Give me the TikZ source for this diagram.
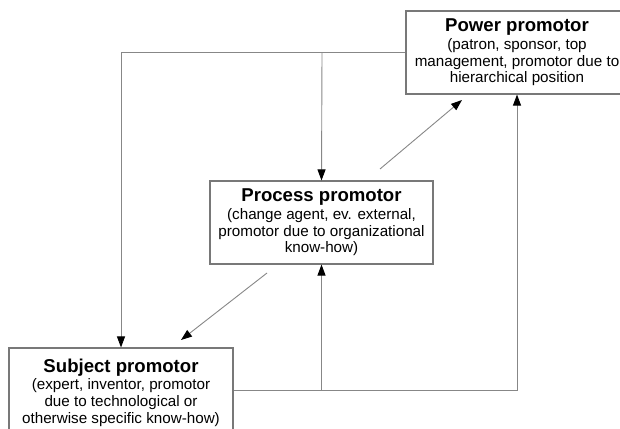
\documentclass[tikz,border=0pt]{standalone}
\usepackage{fontspec}
\setmainfont{Liberation Sans}
\usetikzlibrary{arrows.meta}
\definecolor{linegray}{RGB}{135,135,135}
\definecolor{boxgray}{RGB}{120,120,120}
\tikzset{
  promobox/.style={draw=boxgray, line width=1.1pt, rectangle, align=center,
    minimum height=83pt, inner sep=0pt, font=\fontsize{15.2}{16.6}\selectfont},
  conn/.style={draw=linegray, line width=0.9pt,
    -{Triangle[length=11pt,width=8pt,color=black,fill=black]}},
}
\newcommand{\ptitle}[1]{{\fontsize{18.6}{21}\selectfont\bfseries #1}\\[1pt]}
\begin{document}
\begin{tikzpicture}[x=1pt,y=-1pt]
\useasboundingbox (0,0) rectangle (620,428);
\node[promobox, minimum width=222pt] (power) at (517,52.5)
  {\ptitle{Power promotor}(patron, sponsor, top\\management, promotor due to\\hierarchical position};
\node[promobox, minimum width=223pt] (process) at (321.5,222.5)
  {\ptitle{Process promotor}(change agent, ev. external,\\promotor due to organizational\\know-how)};
\node[promobox, minimum width=224pt, minimum height=89pt] (subject) at (121,392.5)
  {\ptitle{Subject promotor}(expert, inventor, promotor\\due to technological or\\otherwise specific know-how)};
\coordinate (jtop) at (322,52.5);
\coordinate (jbot) at (321.5,390);
\coordinate (d1s) at (380,169);
\coordinate (d1e) at (462,100);
\coordinate (d2s) at (267,273);
\coordinate (d2e) at (181,340);
\coordinate (sbe) at (subject.east |- jbot);
\draw[conn] (power.west) -| (subject.north);
\draw[conn] (jtop) -- (process.north);
\draw[conn] (sbe) -| (power.south);
\draw[conn] (jbot) -- (process.south);
\draw[conn] (d1s) -- (d1e);
\draw[conn] (d2s) -- (d2e);
\end{tikzpicture}
\end{document}
